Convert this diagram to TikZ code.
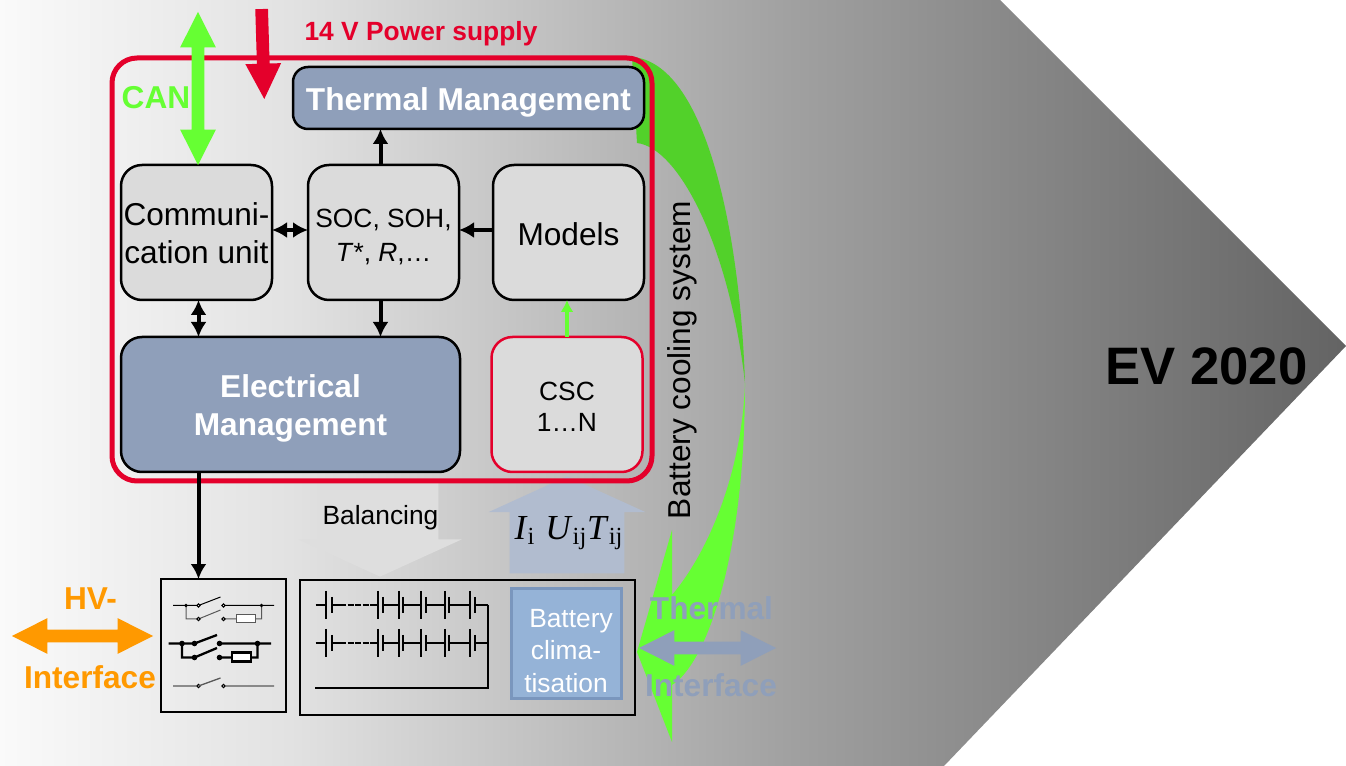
\documentclass[tikz,border=0pt]{standalone}
\usepackage{xcolor}
\usepackage{fontspec}
\setmainfont{Liberation Sans}
\newfontfamily\timesfont{Liberation Serif}
\usetikzlibrary{arrows.meta, positioning, shapes.arrows}
\definecolor{mgmtblue}{HTML}{8F9FBA}
\definecolor{climblue}{HTML}{95B3D7}
\definecolor{climedge}{HTML}{7A96BD}
\definecolor{framered}{HTML}{E4002B}
\definecolor{cangreen}{HTML}{66FF33}
\definecolor{darkgreen}{HTML}{52D12A}
\definecolor{hvorange}{HTML}{FF9900}
\pgfdeclarehorizontalshading{bgshade}{100bp}{color(0bp)=(black!2); color(25bp)=(black!2);
  color(35.8bp)=(black!11.4); color(54.3bp)=(black!37); color(75bp)=(black!61); color(100bp)=(black!61)}
\newlength{\pxl}
\setlength{\pxl}{0.02cm}
\newcommand{\fs}[2]{\fontsize{#1}{#2}\selectfont}
\newcommand{\dn}[1]{\rule{0pt}{#1\pxl}}
\begin{document}
\begin{tikzpicture}[x=0.02cm, y=-0.02cm,
    BOX/.style = {draw=black, line width=2.5\pxl, fill=#1, rounded corners=21\pxl, outer sep=0pt,
                  inner sep=0pt, align=center, minimum width=151\pxl, minimum height=135\pxl},
    BOX/.default = {black!14},
    MG/.style  = {BOX=mgmtblue, text=white, font=\fs{18}{22}\bfseries},
    SQ/.style  = {draw=black, line width=2.5\pxl, outer sep=0pt},
    SA/.style  = {single arrow, fill=#1, outer sep=0pt, inner xsep=0pt, inner ysep=6\pxl,
                  single arrow head extend=11.5\pxl, single arrow tip angle=53.6},
    DA/.style  = {double arrow, fill=#1, outer sep=0pt, inner xsep=0pt, inner ysep=6\pxl,
                  double arrow head extend=11.5\pxl, double arrow tip angle=53.6},
    ARW/.style = {line width=4\pxl, arrows={-Latex[length=0.3cm,width=0.32cm]}},
    DBL/.style = {line width=4\pxl, arrows={Latex[length=0.3cm,width=0.32cm]-Latex[length=0.3cm,width=0.32cm]}},
    LB/.style  = {inner sep=0pt, align=center, font=\fs{15}{18}}]
\useasboundingbox (0,0) rectangle (1346,766);
\shade[shading=bgshade] (0,0) -- (1000,0) -- (1346,346) -- (944,766) -- (0,766) -- cycle;

\fill[darkgreen] (637,143) .. controls (680,148) and (730,250) .. (745,383)
                 .. controls (740,230) and (705,62) .. (632,57) -- cycle;
\fill[cangreen]  (745,383) .. controls (742,470) and (710,550) .. (672,595) -- (672,530) -- (637,652)
                 -- (672,742) -- (672,685) .. controls (705,665) and (745,560) .. (745,383) -- cycle;

\node (bal) [single arrow, fill=black!13, inner xsep=0pt, inner ysep=58\pxl, minimum height=96\pxl,
             single arrow head extend=23.5\pxl, single arrow tip angle=131, rotate=-90, anchor=tip] at (380,577) {};
\node (meas) [single arrow, fill=mgmtblue!70, inner xsep=0pt, inner ysep=57\pxl, minimum height=97\pxl,
             single arrow head extend=21\pxl, single arrow tip angle=131, rotate=90, anchor=tip] at (567,476) {};

\node (frame) [draw=framered, line width=5\pxl, rounded corners=25\pxl, minimum width=540\pxl,
               minimum height=423\pxl, outer sep=0pt, inner sep=0pt] at (382,269.5) {};

\node (comm) [BOX, font=\fs{18}{21.5}] at (196.5,232.5) {\dn{25}Communi-\\cation unit};
\node (soc)  [BOX, font=\fs{15}{19}, right=36\pxl of comm] {\dn{27}SOC, SOH,\\\textit{T}*, \textit{R},\dots};
\node (mod)  [BOX, font=\fs{18}{22}, right=34\pxl of soc] {\dn{27}Models};
\node (therm) [MG, rounded corners=15\pxl, minimum width=351\pxl, minimum height=62\pxl] at (468.5,98) {\dn{31}Thermal Management};
\node (elec) [MG, minimum width=339\pxl, below=37\pxl of comm.south west, anchor=north west] {\dn{31}Electrical\\Management};
\node (csc)  [BOX, draw=framered, font=\fs{15}{18}, below=37\pxl of mod.south, anchor=north, xshift=-1.5\pxl] {\dn{23}CSC\\1\dots N};

\node (hv)   [SQ, minimum width=125\pxl, minimum height=133\pxl] at (223.5,645.5) {};
\node (bat)  [SQ, minimum width=335\pxl, minimum height=135\pxl] at (467.5,647.5) {};
\node (clim) [draw=climedge, line width=3\pxl, fill=climblue, text=white, outer sep=0pt, inner sep=0pt,
              align=center, minimum width=110\pxl, minimum height=109\pxl, font=\fs{15}{18.7}]
             at (566,643.5) {\dn{33}\hspace*{10\pxl}Battery\\clima-\\tisation};

\draw[ARW] (soc.north) ++(-3,0) coordinate (s1) -- (s1|-therm.south);
\draw[ARW] (soc.south) ++(-3,0) coordinate (s2) -- (s2|-elec.north);
\draw[DBL] (comm) ++(75.5,-2.5) coordinate (c1) -- (c1-|soc.west);
\draw[DBL] (comm.south) ++(2,0) coordinate (c2) -- (c2|-elec.north);
\draw[ARW] (mod) ++(-75.5,-2.5) coordinate (m1) -- (m1-|soc.east);
\draw[cangreen, line width=3.5\pxl, arrows={-Latex[length=0.24cm,width=0.26cm]}] (csc.north) -- (csc.north|-mod.south);
\draw[ARW] (c2|-elec.south) -- (c2|-hv.north);

\node (can) [DA=cangreen, minimum height=153\pxl, rotate=90] at (198,88.5) {};
\node (pwr) [SA=framered, minimum height=90\pxl, rotate=-88.3, anchor=tip] at (264.3,99) {};
\node (hvarr) [DA=hvorange, minimum height=141\pxl] at (82.5,636) {};
\node (tharr) [DA=mgmtblue, minimum height=137\pxl] at (707.5,648) {};

\node (canlb) [LB, text=cangreen, font=\fs{18}{22}\bfseries] at (156,98) {CAN};
\node (pwrlb) [LB, text=framered, font=\fs{15}{18}\bfseries] at (421,34) {14 V Power supply};
\node (ballb) [LB] at (380.5,518) {Balancing};
\node (uilb)  [LB, font=\fs{20}{24}\timesfont] at (569,533)
  {\textit{I}\textsubscript{i}\hspace{10\pxl}\textit{U}\textsubscript{ij}\textit{T}\textsubscript{ij}};
\node (coollb) [LB, font=\fs{18}{22}, rotate=90] at (682,360) {Battery cooling system};
\node (evlb)  [LB, font=\fs{30}{36}\bfseries] at (1206.5,366) {EV 2020};
\node (hvlb1) [LB, text=hvorange, font=\fs{18}{22}\bfseries] at (90.5,599) {HV-};
\node (hvlb2) [LB, text=hvorange, font=\fs{18}{22}\bfseries] at (90,677) {Interface};
\node (thlb1) [LB, text=mgmtblue, font=\fs{18}{22}\bfseries] at (711.5,608) {Thermal};
\node (thlb2) [LB, text=mgmtblue, font=\fs{18}{22}\bfseries] at (711,685) {Interface};

% switches
\begin{scope}[line width=1\pxl]
  \draw (173,605.5) -- (198.5,605.5) (198.5,605.5) -- (220.5,597) (223.5,605.5) -- (274,605.5);
  \draw[black!65] (186,605.5) |- (198.5,619) -- (220.5,610) (223.5,619) -- (236,619) (255,619) -- (261.5,619) -- (261.5,605.5);
  \draw[black!65, fill=white] (236,615) rectangle (255,623);
  \fill (186,605.5) circle (1.8\pxl) (261.5,605.5) circle (1.8\pxl);
  \foreach \xc/\yc in {198.5/605.5, 223.5/605.5, 198.5/619, 223.5/619, 198.5/686, 223.5/686}
    \draw[fill=white] (\xc,\yc) circle (1.6\pxl);
  \draw[black!65, line width=1.3\pxl] (173,686) -- (197,686) (198.5,686) -- (220.5,678) (225,686) -- (274,686);
\end{scope}
\begin{scope}[line width=2.3\pxl]
  \draw (168.5,643.5) -- (194.5,643.5) -- (217,635) (219.5,643.5) -- (271,643.5);
  \draw (182,643.5) |- (194.5,657.5) -- (217,648) (219.5,657.5) -- (232,657.5) (251,657.5) -- (257.5,657.5) -- (257.5,643.5);
  \draw[fill=white] (232,652.5) rectangle (251,661.5);
  \foreach \xc/\yc in {182/643.5, 194.5/643.5, 219.5/643.5, 257.5/643.5, 194.5/657.5, 219.5/657.5}
    \fill (\xc,\yc) circle (2.8\pxl);
\end{scope}

% battery cells
\begin{scope}[line width=2.2\pxl]
  \foreach \yc in {605,643} {
    \draw (315.5,\yc) -- (326,\yc) (332,\yc) -- (340,\yc);
    \draw[dash pattern=on 6\pxl off 1.5\pxl] (340,\yc) -- (370,\yc);
    \draw (370,\yc) -- (378,\yc);
    \draw (326,\yc-14) -- (326,\yc+14) (332,\yc-8) -- (332,\yc+8);
    \foreach \xl/\xs/\xn in {378/383/399, 399/403/421, 421/426/445, 445/449/470, 470/475/488} {
      \draw (\xl,\yc-14) -- (\xl,\yc+14) (\xs,\yc-8) -- (\xs,\yc+8);
      \draw (\xs,\yc) -- (\xn,\yc);
    }
  }
  \draw[line width=2.5\pxl] (488,605) -- (488,688) -- (315,688);
\end{scope}
\end{tikzpicture}
\end{document}
